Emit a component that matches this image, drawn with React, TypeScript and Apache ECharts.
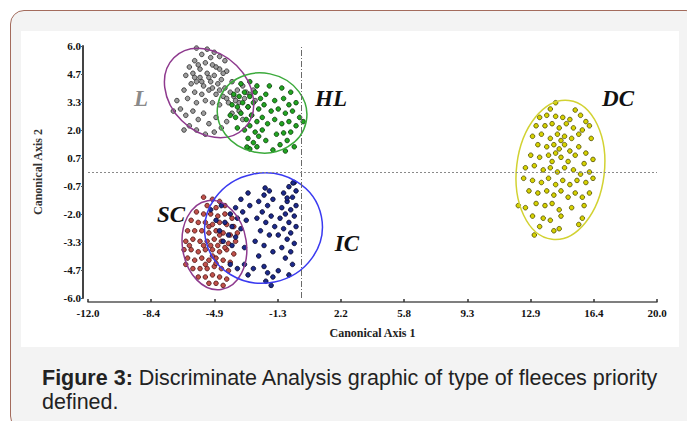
import React, { useEffect, useRef } from "react";
import * as echarts from "echarts";

// ---- axis ticks ----
const xTickLabels = ["-12.0", "-8.4", "-4.9", "-1.3", "2.2", "5.8", "9.3", "12.9", "16.4", "20.0"];
const yTickLabels = ["-6.0", "-4.7", "-3.3", "-2.0", "-0.7", "0.7", "2.0", "3.3", "4.7", "6.0"];
const xRange = [-12, 20];
const yRange = [-6, 6];

// ---- groups ----
const groupNames = ["L", "HL", "SC", "IC", "DC"];

const pointsL = [
  [-5.9, 5.9], [-5.3, 5.85], [-4.9, 5.7], [-5.6, 5.6], [-4.6, 5.5], [-5.1, 5.45], [-6.0, 5.3], [-4.3, 5.3],
  [-6.3, 5.0], [-5.8, 5.1], [-5.4, 5.2], [-5.0, 5.1], [-4.6, 4.9], [-4.2, 4.8], [-6.5, 4.6], [-6.1, 4.7],
  [-5.7, 4.5], [-5.3, 4.7], [-4.9, 4.6], [-4.5, 4.4], [-6.2, 4.2], [-5.9, 4.3], [-5.5, 4.1], [-5.1, 4.3],
  [-4.7, 4.2], [-4.3, 4.0], [-3.9, 4.3], [-6.6, 3.9], [-6.0, 3.8], [-5.6, 3.7], [-5.2, 3.9], [-4.8, 3.7],
  [-4.4, 3.6], [-4.0, 3.8], [-3.6, 3.9], [-3.3, 4.1], [-6.4, 3.5], [-5.9, 3.3], [-5.4, 3.4], [-5.0, 3.3],
  [-4.6, 3.2], [-4.1, 3.3], [-3.7, 3.4], [-3.2, 3.5], [-2.9, 3.7], [-2.6, 3.4], [-3.0, 3.1], [-3.5, 2.9],
  [-3.9, 2.8], [-2.8, 2.7], [-3.3, 2.5], [-6.8, 3.0], [-6.5, 2.7], [-6.1, 2.9], [-5.8, 2.5], [-6.3, 2.2],
  [-5.5, 2.8], [-5.2, 2.3], [-4.8, 2.6], [-4.5, 2.1], [-5.9, 2.0], [-4.9, 1.9], [-4.2, 2.4], [-5.4, 1.8],
  [-6.6, 2.0], [-5.7, 4.9], [-5.2, 4.5], [-4.8, 5.0], [-4.4, 4.7], [-5.0, 4.0], [-5.6, 4.3], [-6.0, 4.5],
  [-4.6, 3.9], [-4.2, 3.5], [-3.8, 3.6], [-3.5, 3.3], [-2.7, 3.9], [-3.1, 3.8], [-7.2, 2.9], [-7.0, 3.4],
];

const pointsHL = [
  [-3.4, 4.2], [-2.9, 4.3], [-2.5, 4.1], [-1.8, 4.1], [-1.1, 4.0], [-0.6, 3.8],
  [-3.8, 3.7], [-3.5, 3.6], [-3.2, 3.8], [-2.9, 3.6], [-2.6, 3.8], [-2.3, 3.5], [-2.0, 3.7], [-1.5, 3.4],
  [-1.0, 3.5], [-0.7, 3.2], [-0.3, 3.3], [-3.9, 3.2], [-3.6, 3.1], [-3.3, 3.3], [-3.0, 3.1], [-2.7, 3.3],
  [-2.4, 3.0], [-2.1, 3.2], [-1.7, 2.9], [-1.3, 3.0], [-0.9, 2.8], [-0.5, 2.9], [-0.1, 2.6], [-4.0, 2.7],
  [-3.7, 2.6], [-3.4, 2.8], [-3.1, 2.5], [-2.8, 2.7], [-2.5, 2.4], [-2.2, 2.6], [-1.9, 2.3], [-1.5, 2.5],
  [-1.1, 2.3], [-0.7, 2.4], [-0.3, 2.2], [0.1, 2.4], [-3.6, 2.1], [-3.2, 2.0], [-2.9, 2.2], [-2.6, 1.9],
  [-2.2, 2.0], [-1.4, 1.8], [-0.6, 1.9], [-3.0, 1.6], [-2.7, 1.4], [-2.4, 1.7], [-2.0, 1.5], [-1.2, 1.3],
  [-0.8, 1.5], [-0.4, 1.2], [-2.9, 1.1], [-2.5, 1.2], [-1.6, 1.05], [-0.9, 1.0], [-1.0, 1.86], [-3.06, 1.19],
];

const pointsSC = [
  [-5.5, -1.2], [-5.0, -1.3], [-4.6, -1.4], [-5.3, -1.6], [-4.8, -1.7], [-4.3, -1.6],
  [-5.9, -1.9], [-5.5, -2.0], [-5.1, -2.0], [-4.7, -2.1], [-4.3, -2.0], [-3.9, -2.2],
  [-6.2, -2.3], [-5.8, -2.4], [-5.4, -2.4], [-5.0, -2.5], [-4.6, -2.4], [-4.2, -2.5], [-3.8, -2.6],
  [-6.4, -2.8], [-6.0, -2.8], [-5.6, -2.8], [-5.2, -2.9], [-4.8, -2.8], [-4.4, -2.9], [-4.0, -3.0], [-3.6, -2.9],
  [-6.5, -3.3], [-6.1, -3.2], [-5.7, -3.3], [-5.3, -3.3], [-4.9, -3.2], [-4.5, -3.3], [-4.1, -3.4], [-3.7, -3.3],
  [-6.6, -3.7], [-6.2, -3.7], [-5.8, -3.8], [-5.4, -3.7], [-5.0, -3.7], [-4.6, -3.8], [-4.2, -3.7], [-3.8, -3.9],
  [-6.4, -4.1], [-6.0, -4.2], [-5.6, -4.1], [-5.2, -4.2], [-4.8, -4.1], [-4.4, -4.2], [-4.0, -4.3],
  [-6.1, -4.6], [-5.7, -4.6], [-5.3, -4.6], [-4.9, -4.5], [-4.5, -4.6], [-4.1, -4.7],
  [-5.8, -5.0], [-5.4, -5.0], [-5.0, -4.9], [-4.6, -5.0], [-4.2, -5.1],
  [-5.2, -5.3], [-4.8, -5.3], [-4.4, -5.4],
  [-5.1, -3.5], [-4.7, -3.5], [-5.5, -3.5], [-4.3, -3.6], [-5.2, -2.6], [-4.8, -4.35], [-5.4, -4.4],
  [-4.6, -3.0], [-5.0, -4.0], [-6.3, -3.5], [-6.5, -4.4],
];

const pointsIC = [
  [-0.4, -0.5], [-0.7, -0.7], [-0.3, -0.9], [-1.0, -1.0], [-0.5, -1.2], [-0.8, -1.4], [-0.3, -1.6], [-1.1, -1.7],
  [-0.6, -1.8], [-0.9, -2.0], [-0.4, -2.1], [-1.2, -2.2], [-0.7, -2.4], [-0.3, -2.6], [-1.0, -2.7], [-0.6, -2.9],
  [-1.3, -3.0], [-0.8, -3.2], [-0.4, -3.4], [-1.1, -3.6], [-0.6, -3.8], [-0.9, -4.1], [-0.5, -4.4],
  [-1.8, -0.9], [-2.1, -1.1], [-1.6, -1.3], [-2.4, -1.4], [-1.9, -1.6], [-2.2, -1.9], [-1.7, -2.1], [-2.5, -2.2],
  [-2.0, -2.4], [-1.5, -2.6], [-2.3, -2.8], [-1.8, -3.0], [-2.6, -3.3], [-2.1, -3.5], [-1.6, -3.8], [-2.4, -4.0],
  [-3.0, -1.0], [-3.4, -1.3], [-2.9, -1.6], [-3.7, -1.7], [-3.3, -1.9], [-4.0, -2.0], [-3.6, -2.2], [-3.1, -2.3],
  [-4.3, -2.4], [-3.9, -2.6], [-3.4, -2.7], [-4.6, -2.8], [-4.1, -3.0], [-3.7, -3.1], [-4.4, -3.3], [-3.9, -3.5],
  [-4.8, -2.3], [-5.1, -1.8], [-4.5, -1.6], [-3.2, -3.6],
  [-4.0, -4.4], [-3.6, -4.6], [-3.2, -4.4], [-3.0, -4.9], [-2.1, -4.5], [-1.9, -4.8], [-1.6, -5.0], [-2.0, -5.2],
  [-1.7, -5.4], [-1.3, -4.7], [-2.7, -4.6], [-0.7, -4.9], [-2.04, -0.76], [-0.8, -1.24], [-0.47, -0.52],
];

const pointsDC = [
  [14.3, 3.3], [14.0, 3.0], [15.4, 2.95], [13.4, 2.6], [13.8, 2.7], [14.3, 2.65], [14.7, 2.6], [15.1, 2.5], [15.7, 2.7], [16.0, 2.4],
  [13.2, 2.2], [13.7, 2.2], [14.1, 2.3], [14.5, 2.1], [14.9, 2.3], [15.3, 2.1], [15.8, 2.0], [16.2, 2.2],
  [13.0, 1.7], [13.5, 1.8], [14.0, 1.6], [14.4, 1.8], [14.6, 1.5], [14.8, 1.7], [15.2, 1.6], [15.6, 1.8], [16.3, 1.6],
  [13.3, 1.3], [13.8, 1.2], [14.2, 1.3], [14.5, 1.1], [14.8, 1.3], [14.3, 0.9], [15.1, 1.0], [15.6, 1.2], [16.0, 0.9],
  [12.9, 0.8], [13.4, 0.7], [13.9, 0.8], [14.1, 0.5], [14.6, 0.7], [15.0, 0.5], [15.4, 0.8], [15.9, 0.4], [16.4, 0.6],
  [12.6, 0.2], [13.1, 0.3], [13.6, 0.1], [14.0, 0.2], [14.4, 0.0], [14.8, 0.2], [15.3, 0.1], [15.7, -0.1], [16.2, 0.0],
  [12.5, -0.3], [13.0, -0.4], [13.5, -0.5], [13.9, -0.3], [14.3, -0.6], [14.7, -0.4], [15.1, -0.6], [15.5, -0.4], [16.0, -0.5], [16.4, -0.3],
  [12.8, -0.9], [13.3, -1.0], [13.8, -0.9], [14.2, -1.1], [14.6, -0.9], [15.0, -1.2], [15.4, -1.0], [15.8, -1.2], [16.2, -1.0],
  [12.2, -1.6], [12.6, -1.7], [13.2, -1.5], [13.7, -1.6], [14.1, -1.5], [14.5, -1.8], [15.2, -1.7], [15.9, -1.6],
  [13.0, -2.1], [13.6, -2.2], [14.0, -2.3], [14.6, -2.1], [15.8, -2.2],
  [13.4, -2.6], [14.5, -2.7], [15.6, -2.5], [13.1, -3.0], [14.2, -2.8],
];

// ellipses: [centerX, centerY, semiAxisX (x units), semiAxisY (y units), rotation rad]
const ellipseL = [-5.19, 3.76, 2.8, 1.85, -0.785];
const ellipseHL = [-2.21, 2.81, 2.53, 1.9, -0.2];
const ellipseSC = [-4.89, -3.48, 1.8, 2.14, 0.15];
const ellipseIC = [-2.13, -2.67, 3.32, 2.62, 0.2];
const ellipseDC = [14.57, 0.1, 2.47, 3.33, -0.12];

const captionLead = "Figure 3:";
const caption1 = "Discriminate Analysis graphic of type of fleeces priority";
const caption2 = "defined.";
const xName = "Canonical Axis 1";
const yName = "Canonical Axis 2";

const SERIF = '"Liberation Serif", "Times New Roman", serif';
const SANS = '"Liberation Sans", Arial, sans-serif';

export default function App() {
  const ref = useRef<HTMLDivElement>(null);

  useEffect(() => {
    if (!ref.current) return;
    const chart = echarts.init(ref.current, null, { renderer: "svg" });

    const pointGroups = [
      { name: "L", data: pointsL, fill: "#9c9c9c", border: "#2a2a2a" },
      { name: "HL", data: pointsHL, fill: "#21a521", border: "#0b3a0b" },
      { name: "SC", data: pointsSC, fill: "#c0504a", border: "#4a1212" },
      { name: "IC", data: pointsIC, fill: "#1c2a8a", border: "#05052a" },
      { name: "DC", data: pointsDC, fill: "#d6d200", border: "#4d4a00" },
    ];
    const ellipses = [
      { data: ellipseL, color: "#8e3a8e" },
      { data: ellipseHL, color: "#3caa3c" },
      { data: ellipseSC, color: "#8e3a8e" },
      { data: ellipseIC, color: "#3a3af0" },
      { data: ellipseDC, color: "#d2d232" },
    ];

    const series: any[] = pointGroups.map((g, i) => ({
      type: "scatter",
      name: g.name,
      data: g.data,
      symbol: "circle",
      symbolSize: 4.6,
      itemStyle: { color: g.fill, borderColor: g.border, borderWidth: 0.8, opacity: 1 },
      z: 3,
      ...(i === 0
        ? {
            markLine: {
              silent: true,
              symbol: ["none", "none"],
              label: { show: false },
              animation: false,
              data: [
                { xAxis: 0, lineStyle: { color: "#6a6a6a", width: 1, type: [6, 2, 1, 2] } },
                { yAxis: 0, lineStyle: { color: "#8a8a8a", width: 1, type: [2, 2] } },
              ],
            },
          }
        : {}),
    }));

    series.push({
      type: "custom",
      name: "ellipses",
      data: ellipses.map((e) => e.data),
      z: 4,
      silent: true,
      renderItem: (params: any, api: any) => {
        const idx = params.dataIndex;
        const c = api.coord([api.value(0), api.value(1)]);
        const rx = api.size([api.value(2), 0])[0];
        const ry = api.size([0, api.value(3)])[1];
        return {
          type: "ellipse",
          x: c[0],
          y: c[1],
          rotation: api.value(4),
          shape: { cx: 0, cy: 0, rx, ry },
          style: { fill: "none", stroke: ellipses[idx].color, lineWidth: 1.5 },
        };
      },
    });

    const labelFont = `italic bold 23px ${SERIF}`;
    const groupLabels = [
      { text: groupNames[0], x: 141, y: 98, fill: "#8a8a8a" },
      { text: groupNames[1], x: 331, y: 98, fill: "#111" },
      { text: groupNames[4], x: 618, y: 98, fill: "#111" },
      { text: groupNames[2], x: 171, y: 214, fill: "#111" },
      { text: groupNames[3], x: 347, y: 243, fill: "#111" },
    ];

    chart.setOption({
      animation: false,
      backgroundColor: "transparent",
      grid: { left: 88, right: 30, top: 46, bottom: 123, containLabel: false },
      xAxis: {
        type: "value",
        min: xRange[0],
        max: xRange[1],
        interval: (xRange[1] - xRange[0]) / 9,
        offset: 4,
        name: xName,
        nameLocation: "middle",
        nameGap: 25,
        nameTextStyle: { fontFamily: SERIF, fontWeight: "bold", fontSize: 12, color: "#222" },
        axisLine: { show: true, onZero: false, lineStyle: { color: "#555", width: 1.5 } },
        axisTick: { show: true, inside: true, length: 3, lineStyle: { color: "#333", width: 1.5 } },
        axisLabel: {
          margin: 5,
          fontFamily: SERIF,
          fontWeight: "bold",
          fontSize: 11,
          color: "#111",
          formatter: (_v: number, i: number) => xTickLabels[i] ?? "",
        },
        splitLine: { show: false },
      },
      yAxis: {
        type: "value",
        min: yRange[0],
        max: yRange[1],
        interval: (yRange[1] - yRange[0]) / 9,
        offset: 5,
        name: yName,
        nameLocation: "middle",
        nameGap: 39,
        nameTextStyle: { fontFamily: SERIF, fontWeight: "bold", fontSize: 12, color: "#333" },
        axisLine: { show: true, onZero: false, lineStyle: { color: "#444", width: 2 } },
        axisTick: { show: true, inside: false, length: 2, lineStyle: { color: "#555", width: 1 } },
        axisLabel: {
          margin: 2,
          fontFamily: SERIF,
          fontWeight: "bold",
          fontSize: 11,
          color: "#111",
          formatter: (_v: number, i: number) => yTickLabels[i] ?? "",
        },
        splitLine: { show: false },
      },
      graphic: [
        ...groupLabels.map((l) => ({
          type: "text",
          x: l.x,
          y: l.y,
          z: 100,
          silent: true,
          style: {
            text: l.text,
            font: labelFont,
            fill: l.fill,
            textAlign: "center",
            textVerticalAlign: "middle",
          },
        })),
        {
          type: "text",
          x: 42,
          y: 378,
          silent: true,
          style: {
            text: "{b|" + captionLead + "} " + caption1,
            fontFamily: SANS,
            fontSize: 21.5,
            fill: "#222",
            textVerticalAlign: "middle",
            rich: {
              b: { fontFamily: SANS, fontSize: 21.5, fontWeight: "bold", fill: "#222" },
            },
          },
        },
        {
          type: "text",
          x: 42,
          y: 402,
          silent: true,
          style: {
            text: caption2,
            fontFamily: SANS,
            fontSize: 21.5,
            fill: "#222",
            textVerticalAlign: "middle",
          },
        },
      ],
      series,
    });

    return () => chart.dispose();
  }, []);

  return (
    <div style={{ position: "absolute", left: 0, top: 0, width: 687, height: 421, overflow: "hidden", background: "#fff" }}>
      <div
        style={{
          position: "absolute",
          left: 10,
          top: 10,
          width: 690,
          height: 420,
          boxSizing: "border-box",
          border: "1.5px solid #a36b5c",
          borderRadius: 14,
          background: "#f3f3f3",
        }}
      />
      <div style={{ position: "absolute", left: 21, top: 31, width: 658, height: 316, background: "#fff" }} />
      <div ref={ref} style={{ position: "absolute", left: 0, top: 0, width: 687, height: 421 }} />
    </div>
  );
}
